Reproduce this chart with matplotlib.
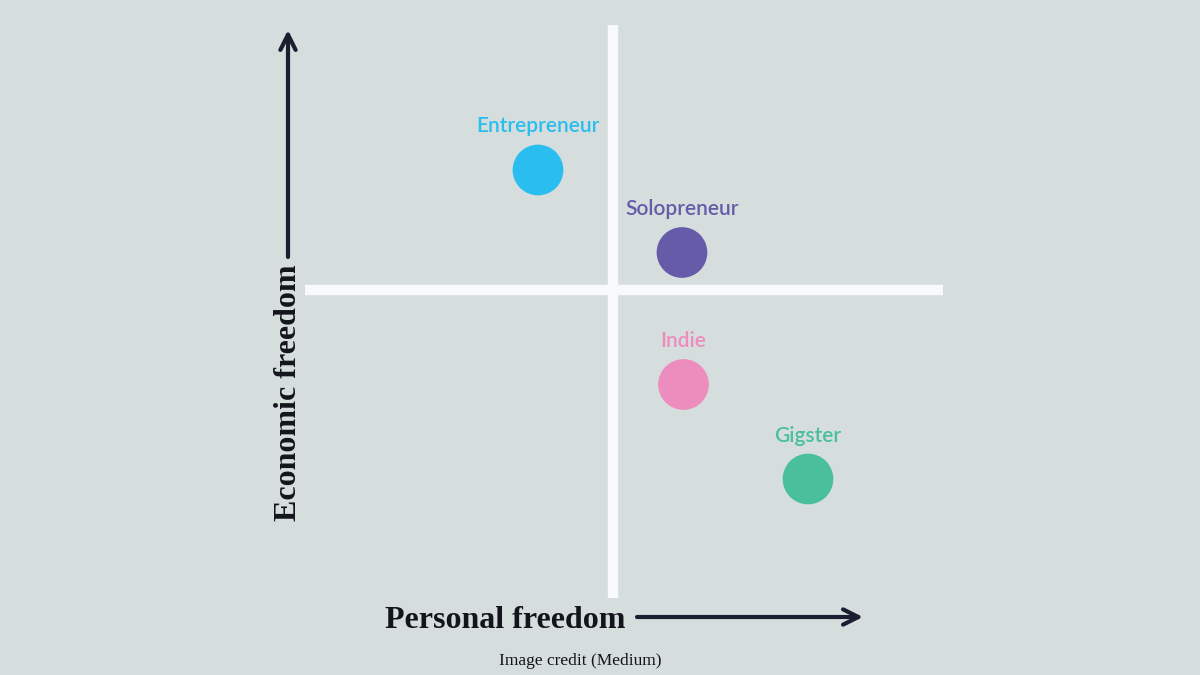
import matplotlib.pyplot as plt

# positions on a personal (x) / economic (y) freedom plane, crossing at 0,0
labels = ['Entrepreneur', 'Solopreneur', 'Indie', 'Gigster']
personal = [-2.5, 2.3, 2.35, 6.5]
economic = [4.0, 1.25, -3.15, -6.3]
colors = ['#29bdf0', '#655ba9', '#ec8dbd', '#4abf9b']

bg = '#d5dedd'
ink = '#1b1d30'

fig = plt.figure(figsize=(12, 6.75), dpi=100, facecolor=bg)

# axes box matches the extent of the white cross
ax = fig.add_axes([305 / 1200, 77 / 675, 638 / 1200, 573 / 675])
ax.set_facecolor(bg)
ax.set_xlim(-308 / 30, 330 / 30)
ax.set_ylim(-308 / 30, 265 / 30)
for s in ax.spines.values():
    s.set_visible(False)
ax.set_xticks([])
ax.set_yticks([])

ax.axhline(0, color='#f8f9fc', lw=7.5, zorder=1)
ax.axvline(0, color='#f8f9fc', lw=7.5, zorder=1)

ax.scatter(personal, economic, s=36.5**2, c=colors, zorder=3, linewidths=0)
for name, x, y, c in zip(labels, personal, economic, colors):
    ax.text(x, y + 1.45, name, color=c, ha='center', va='center',
            fontsize=15, family='Lato', fontweight='semibold', zorder=4)

# axis arrows and titles in figure pixels
def px(x, y):
    return (x / 1200, 1 - y / 675)

arrow = dict(arrowstyle='->,head_length=1.1,head_width=0.55',
             color=ink, lw=3.0, shrinkA=0, shrinkB=0)
ax.annotate('', xy=px(288, 30), xytext=px(288, 257), xycoords='figure fraction',
            textcoords='figure fraction', arrowprops=arrow)
ax.annotate('', xy=px(863, 617), xytext=px(637, 617), xycoords='figure fraction',
            textcoords='figure fraction', arrowprops=arrow)

fig.text(*px(288, 393), 'Economic freedom', rotation=90, ha='center', va='center',
         fontsize=23, family='Liberation Serif', fontweight='bold', color='#14151c')
fig.text(*px(505, 628), 'Personal freedom', ha='center', va='baseline',
         fontsize=23, family='Liberation Serif', fontweight='bold', color='#14151c')
fig.text(*px(580, 665), 'Image credit (Medium)', ha='center', va='baseline',
         fontsize=12.5, family='Liberation Serif', color='#14151c')

fig.savefig('out.png', dpi=100, facecolor=bg)
